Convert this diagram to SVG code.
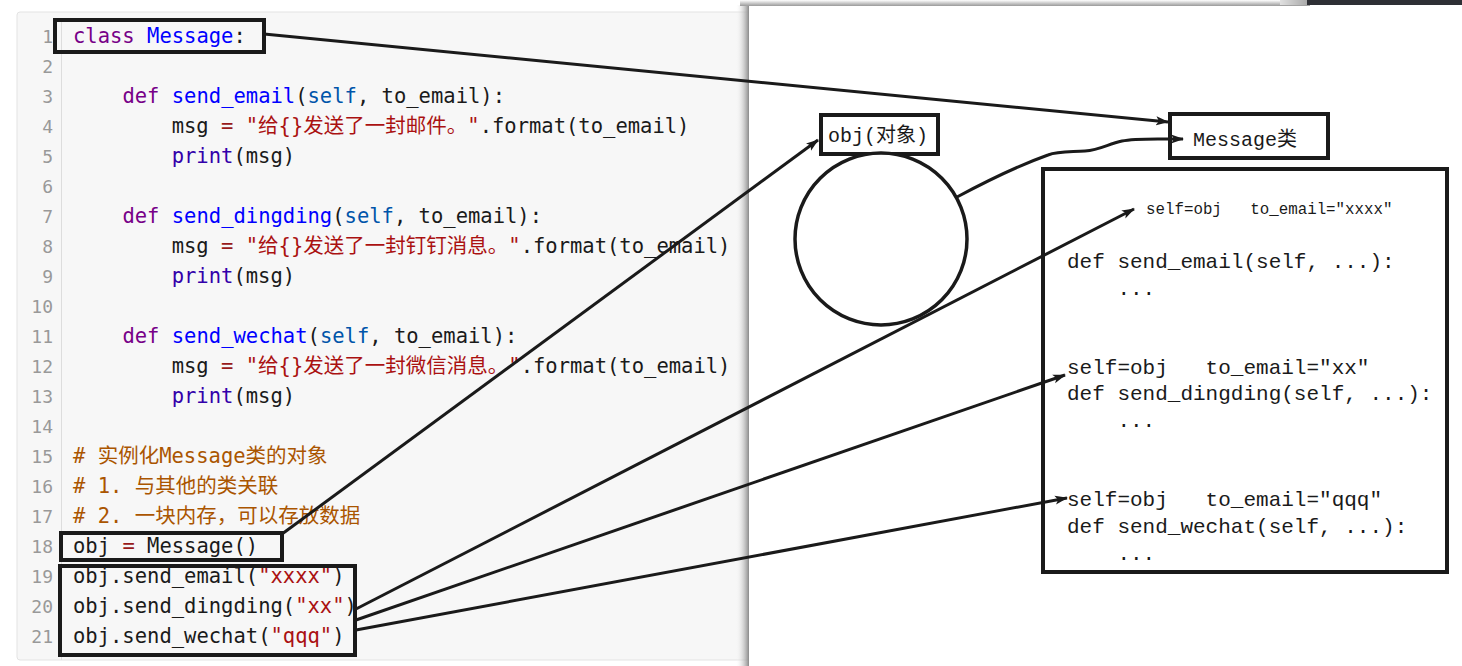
<svg xmlns="http://www.w3.org/2000/svg" width="1462" height="666" viewBox="0 0 1462 666">
<defs>
<style>
.code{font-family:"DejaVu Sans Mono","Noto Sans CJK SC",monospace;font-size:20.5px;fill:#1a1a1a}
.ln{font-family:"DejaVu Sans Mono",monospace;font-size:18px;fill:#999;text-anchor:end}
.kw{fill:#770088}.def{fill:#0000ff}.v2{fill:#0055aa}.op{fill:#981a1a}.str{fill:#aa1111}.bi{fill:#3300aa}.cm{fill:#aa5500}
.hl{fill:none;stroke:#1a1a1a;stroke-width:4}
.rt{font-family:"Liberation Mono","Noto Sans CJK SC",monospace;fill:#1a1a1a}
.box{fill:#fff;stroke:#1a1a1a;stroke-width:4}
.con{fill:none;stroke:#1a1a1a;stroke-width:3;marker-end:url(#ah)}
</style>
<marker id="ah" markerWidth="14" markerHeight="10" refX="12" refY="5" orient="auto" markerUnits="userSpaceOnUse">
<path d="M0,0.5 L13,5 L0,9.5 L3,5 z" fill="#1a1a1a"/>
</marker>
<linearGradient id="shL" x1="0" y1="0" x2="1" y2="0">
<stop offset="0" stop-color="#f7f7f7" stop-opacity="0"/>
<stop offset="1" stop-color="#8a8a8a"/>
</linearGradient>
<linearGradient id="shT" x1="0" y1="0" x2="0" y2="1">
<stop offset="0" stop-color="#ffffff"/>
<stop offset="1" stop-color="#9a9a9a"/>
</linearGradient>
<linearGradient id="barG" x1="0" y1="0" x2="1" y2="0">
<stop offset="0" stop-color="#e0e0e0"/>
<stop offset="1" stop-color="#a8a8a8"/>
</linearGradient>
</defs>
<rect width="1462" height="666" fill="#ffffff"/>

<!-- code panel -->
<g id="code-panel">
<rect x="17" y="12" width="745" height="648" rx="3" fill="#f7f7f7" stroke="#e3e3e3" stroke-width="1"/>
<line x1="61.5" y1="20" x2="61.5" y2="660" stroke="#dddddd" stroke-width="1"/>
<g class="ln">
<text x="53" y="43">1</text><text x="53" y="73">2</text><text x="53" y="103">3</text><text x="53" y="133">4</text>
<text x="53" y="163">5</text><text x="53" y="193">6</text><text x="53" y="223">7</text><text x="53" y="253">8</text>
<text x="53" y="283">9</text><text x="53" y="313">10</text><text x="53" y="343">11</text><text x="53" y="373">12</text>
<text x="53" y="403">13</text><text x="53" y="433">14</text><text x="53" y="463">15</text><text x="53" y="493">16</text>
<text x="53" y="523">17</text><text x="53" y="553">18</text><text x="53" y="583">19</text><text x="53" y="613">20</text>
<text x="53" y="643">21</text>
</g>
<g class="code">
<text x="73" y="43"><tspan class="kw">class</tspan> <tspan class="def">Message</tspan>:</text>
<text x="122.4" y="103"><tspan class="kw">def</tspan> <tspan class="def">send_email</tspan>(<tspan class="v2">self</tspan>, to_email):</text>
<text x="171.7" y="133">msg <tspan class="op">=</tspan> <tspan class="str">"给{}发送了一封邮件。"</tspan>.format(to_email)</text>
<text x="171.7" y="163"><tspan class="bi">print</tspan>(msg)</text>
<text x="122.4" y="223"><tspan class="kw">def</tspan> <tspan class="def">send_dingding</tspan>(<tspan class="v2">self</tspan>, to_email):</text>
<text x="171.7" y="253">msg <tspan class="op">=</tspan> <tspan class="str">"给{}发送了一封钉钉消息。"</tspan>.format(to_email)</text>
<text x="171.7" y="283"><tspan class="bi">print</tspan>(msg)</text>
<text x="122.4" y="343"><tspan class="kw">def</tspan> <tspan class="def">send_wechat</tspan>(<tspan class="v2">self</tspan>, to_email):</text>
<text x="171.7" y="373">msg <tspan class="op">=</tspan> <tspan class="str">"给{}发送了一封微信消息。"</tspan>.format(to_email)</text>
<text x="171.7" y="403"><tspan class="bi">print</tspan>(msg)</text>
<text x="73" y="463" class="cm"># 实例化Message类的对象</text>
<text x="73" y="493" class="cm"># 1. 与其他的类关联</text>
<text x="73" y="523" class="cm"># 2. 一块内存，可以存放数据</text>
<text x="73" y="553">obj <tspan class="op">=</tspan> Message()</text>
<text x="73" y="583">obj.send_email(<tspan class="str">"xxxx"</tspan>)</text>
<text x="73" y="613">obj.send_dingding(<tspan class="str">"xx"</tspan>)</text>
<text x="73" y="643">obj.send_wechat(<tspan class="str">"qqq"</tspan>)</text>
</g>
</g>

<g id="hl-class"><rect class="hl" x="55" y="20" width="209" height="32"/></g>
<g id="hl-obj"><rect class="hl" x="61" y="533" width="221" height="27"/></g>
<g id="hl-calls"><rect class="hl" x="60" y="566" width="295" height="89"/></g>

<!-- right white panel with shadow -->
<g id="right-panel">
<rect x="736" y="5" width="13" height="661" fill="url(#shL)"/>
<rect x="740" y="0" width="570" height="6" fill="url(#shT)"/>
<rect x="1280" y="0" width="28" height="5" fill="url(#barG)"/>
<rect x="1307" y="0" width="155" height="5" fill="#2e2f35"/>
<rect x="749" y="6" width="713" height="660" fill="#ffffff"/>
</g>

<g id="obj-label">
<rect class="box" x="821" y="115" width="117" height="39"/>
<text class="rt" x="828" y="142" font-size="20">obj(对象)</text>
</g>

<g id="obj-circle">
<circle cx="881" cy="239" r="86" fill="#fff" stroke="#1a1a1a" stroke-width="3.5"/>
</g>

<g id="message-class">
<rect class="box" x="1170" y="114" width="158" height="44"/>
<text class="rt" x="1193" y="146" font-size="20">Message类</text>
</g>

<g id="class-body">
<rect class="box" x="1043" y="169" width="404" height="403"/>
<text class="rt" x="1146" y="214" font-size="15.8" xml:space="preserve">self=obj   to_email=″xxxx″</text>
<text class="rt" x="1067" y="268" font-size="21" xml:space="preserve">def send_email(self, ...):</text>
<text class="rt" x="1067" y="295" font-size="21" xml:space="preserve">    ...</text>
<text class="rt" x="1067" y="374" font-size="21" xml:space="preserve">self=obj   to_email=″xx″</text>
<text class="rt" x="1067" y="400" font-size="21" xml:space="preserve">def send_dingding(self, ...):</text>
<text class="rt" x="1067" y="427" font-size="21" xml:space="preserve">    ...</text>
<text class="rt" x="1067" y="506" font-size="21" xml:space="preserve">self=obj   to_email=″qqq″</text>
<text class="rt" x="1067" y="533" font-size="21" xml:space="preserve">def send_wechat(self, ...):</text>
<text class="rt" x="1067" y="560" font-size="21" xml:space="preserve">    ...</text>
</g>

<g id="connectors">
<line class="con" x1="264" y1="34" x2="1168" y2="122"/>
<line class="con" x1="282" y1="534" x2="818" y2="140"/>
<line class="con" x1="356" y1="609" x2="1134" y2="209"/>
<line class="con" x1="356" y1="620" x2="1065" y2="375"/>
<line class="con" x1="356" y1="630" x2="1067" y2="498"/>
<path class="con" d="M957,197 C985,182 1020,165 1048,155 C1058,151 1070,152 1085,151 C1100,150 1108,144 1122,141 C1135,138 1150,139 1183,139"/>
</g>
</svg>
